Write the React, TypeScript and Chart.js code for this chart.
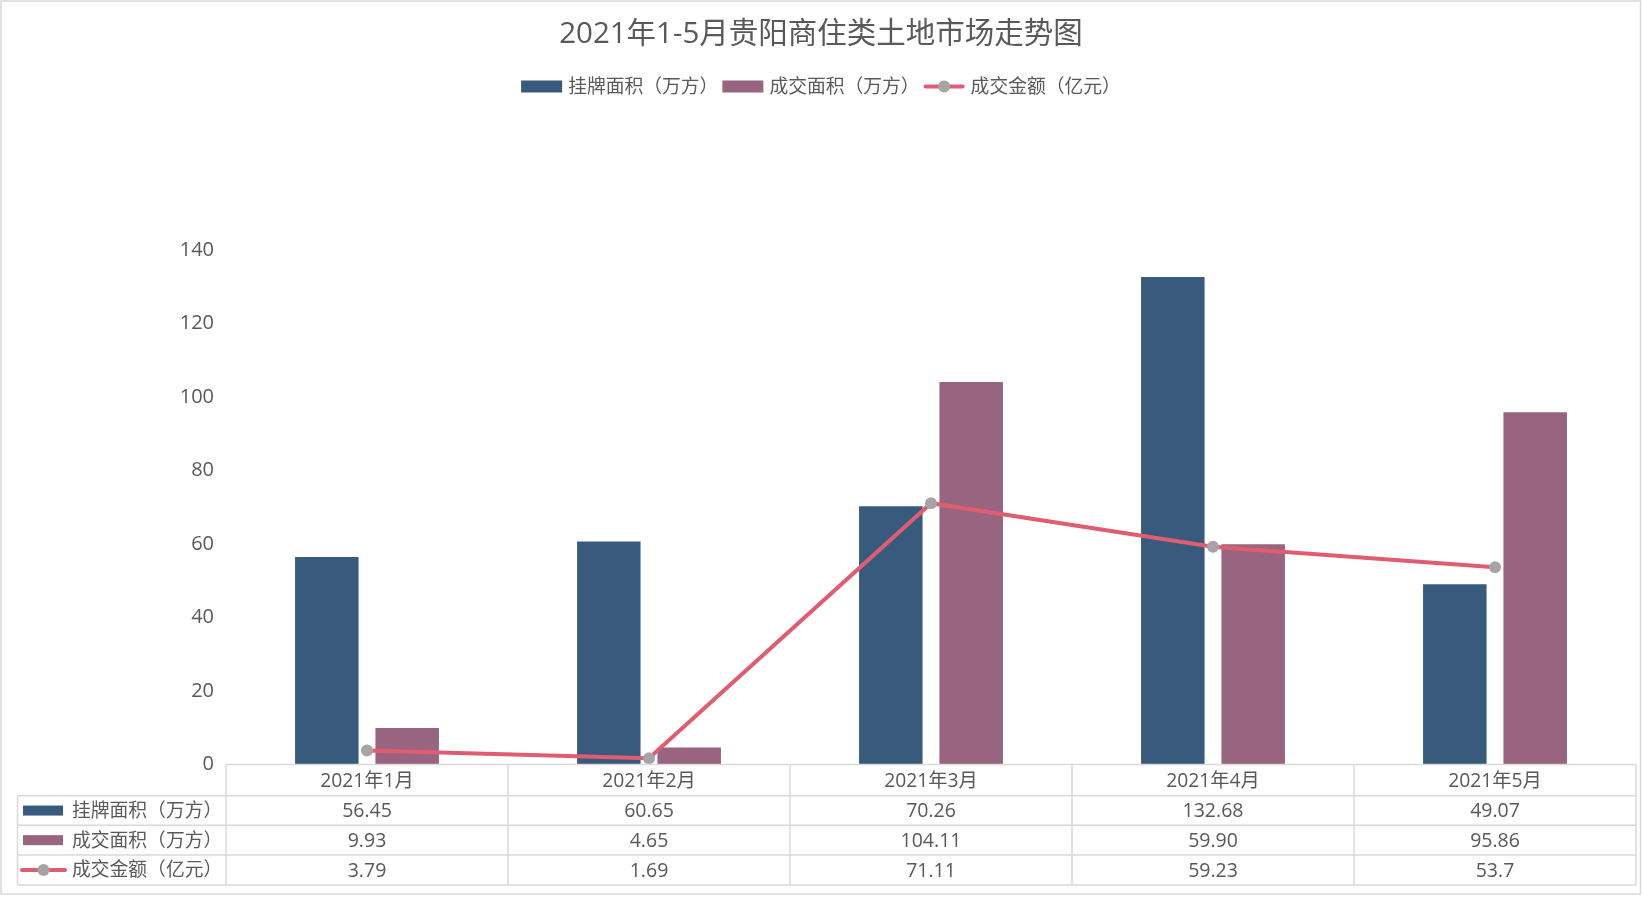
import React, { useEffect, useRef } from "react";
import { Chart, registerables } from "chart.js";

Chart.register(...registerables);

const title = "2021年1-5月贵阳商住类土地市场走势图";
const categories = ["2021年1月", "2021年2月", "2021年3月", "2021年4月", "2021年5月"];
const seriesNames = ["挂牌面积（万方）", "成交面积（万方）", "成交金额（亿元）"];
const listedArea = [56.45, 60.65, 70.26, 132.68, 49.07];
const dealArea = [9.93, 4.65, 104.11, 59.9, 95.86];
const dealAmount = [3.79, 1.69, 71.11, 59.23, 53.7];
const listedLabels = ["56.45", "60.65", "70.26", "132.68", "49.07"];
const dealAreaLabels = ["9.93", "4.65", "104.11", "59.90", "95.86"];
const dealAmountLabels = ["3.79", "1.69", "71.11", "59.23", "53.7"];
const yMin = 0;
const yMax = 140;
const yStep = 20;

const BLUE = "#375A7D";
const PINK = "#98647F";
const LINE = "#E05D71";
const DOT = "#A5A5A5";
const TEXT = "#595959";
const BORDER = "#D9D9D9";
const FONT = "'Open Sans', 'Noto Sans CJK SC', sans-serif";

const W = 1642;
const H = 909;

function drawIcon(ctx: CanvasRenderingContext2D, kind: number, x: number, y: number, w: number, h: number) {
  if (kind === 0 || kind === 1) {
    ctx.fillStyle = kind === 0 ? BLUE : PINK;
    ctx.fillRect(x, y - h / 2, w, h);
  } else {
    ctx.save();
    ctx.strokeStyle = LINE;
    ctx.lineWidth = 4;
    ctx.lineCap = "round";
    ctx.beginPath();
    ctx.moveTo(x + 2, y);
    ctx.lineTo(x + w - 2, y);
    ctx.stroke();
    ctx.fillStyle = DOT;
    ctx.beginPath();
    ctx.arc(x + w / 2, y, 6, 0, Math.PI * 2);
    ctx.fill();
    ctx.restore();
  }
}

const decorPlugin = {
  id: "decor",
  afterDraw(chart: any) {
    const ctx: CanvasRenderingContext2D = chart.ctx;
    const area = chart.chartArea;
    ctx.save();

    // outer border
    ctx.strokeStyle = BORDER;
    ctx.lineWidth = 1.5;
    ctx.strokeRect(1, 1, W - 2.5, 893);

    // title
    ctx.fillStyle = TEXT;
    ctx.font = `29.5px ${FONT}`;
    ctx.textAlign = "center";
    ctx.textBaseline = "middle";
    ctx.fillText(title, W / 2, 35);

    // legend
    ctx.font = `18.8px ${FONT}`;
    const boxW = 41;
    const gapIcon = 6;
    const gapItem = 4;
    const widths = seriesNames.map((s) => ctx.measureText(s).width);
    const total = widths.reduce((a, b) => a + b, 0) + 3 * (boxW + gapIcon) + 2 * gapItem;
    let lx = W / 2 - total / 2;
    const ly = 86.5;
    ctx.textAlign = "left";
    seriesNames.forEach((s, i) => {
      drawIcon(ctx, i, lx, ly, boxW, 12);
      ctx.fillStyle = TEXT;
      ctx.fillText(s, lx + boxW + gapIcon, ly + 1);
      lx += boxW + gapIcon + widths[i] + gapItem;
    });

    // data table
    const xs = chart.scales.x;
    const left = area.left;
    const right = area.right;
    const colW = (right - left) / categories.length;
    const rows = [area.bottom, 795.8, 825.3, 855, 885];
    const legendLeft = 17.5;
    ctx.strokeStyle = BORDER;
    ctx.lineWidth = 1.5;
    ctx.beginPath();
    ctx.moveTo(left, rows[0]);
    ctx.lineTo(right, rows[0]);
    for (let r = 1; r < rows.length; r++) {
      ctx.moveTo(legendLeft, rows[r]);
      ctx.lineTo(right, rows[r]);
    }
    for (let c = 0; c <= categories.length; c++) {
      const x = left + c * colW;
      ctx.moveTo(x, rows[0]);
      ctx.lineTo(x, rows[rows.length - 1]);
    }
    ctx.moveTo(legendLeft, rows[1]);
    ctx.lineTo(legendLeft, rows[rows.length - 1]);
    ctx.stroke();

    ctx.fillStyle = TEXT;
    ctx.textAlign = "center";
    ctx.font = `19.3px ${FONT}`;
    categories.forEach((c, i) => {
      const cx = xs.getPixelForValue(i);
      ctx.fillText(c, cx, (rows[0] + rows[1]) / 2 + 1);
    });
    const rowLabels = [listedLabels, dealAreaLabels, dealAmountLabels];
    rowLabels.forEach((labels, r) => {
      const cy = (rows[r + 1] + rows[r + 2]) / 2 + 1;
      ctx.font = `19.5px ${FONT}`;
      labels.forEach((t, i) => {
        const cx = xs.getPixelForValue(i);
        ctx.fillStyle = TEXT;
        ctx.textAlign = "center";
        ctx.fillText(t, cx, cy);
      });
      drawIcon(ctx, r, r === 2 ? 20 : 23, cy - 1, r === 2 ? 47 : 40, 10);
      ctx.fillStyle = TEXT;
      ctx.textAlign = "left";
      ctx.font = `18.8px ${FONT}`;
      ctx.fillText(seriesNames[r], 72, cy);
    });

    ctx.restore();
  },
};

export default function App() {
  const ref = useRef<HTMLCanvasElement | null>(null);

  useEffect(() => {
    if (!ref.current) return;
    const chart = new Chart(ref.current, {
      type: "bar",
      data: {
        labels: categories,
        datasets: [
          {
            type: "bar",
            label: seriesNames[0],
            data: listedArea,
            backgroundColor: BLUE,
            categoryPercentage: 0.57,
            barPercentage: 0.79,
            order: 1,
          },
          {
            type: "bar",
            label: seriesNames[1],
            data: dealArea,
            backgroundColor: PINK,
            categoryPercentage: 0.57,
            barPercentage: 0.79,
            order: 1,
          },
          {
            type: "line",
            label: seriesNames[2],
            data: dealAmount,
            borderColor: LINE,
            borderWidth: 4,
            pointRadius: 6,
            pointBackgroundColor: DOT,
            pointBorderWidth: 0,
            tension: 0,
            order: 0,
          } as any,
        ],
      },
      options: {
        responsive: false,
        animation: false,
        devicePixelRatio: 1,
        layout: { padding: { left: 0, right: 5, top: 250, bottom: 144.5 } },
        plugins: {
          legend: { display: false },
          title: { display: false },
          tooltip: { enabled: false },
        },
        scales: {
          x: { display: false, offset: true, grid: { display: false } },
          y: {
            min: yMin,
            max: yMax,
            ticks: {
              stepSize: yStep,
              padding: 12,
              color: TEXT,
              font: { family: FONT, size: 20 },
            },
            grid: { display: false, drawTicks: false },
            border: { display: false },
            afterFit: (scale: any) => {
              scale.width = 226;
            },
          },
        },
      },
      plugins: [decorPlugin],
    });
    return () => chart.destroy();
  }, []);

  return (
    <div style={{ position: "fixed", left: 0, top: 0, width: W, height: H, background: "#fff" }}>
      <canvas ref={ref} width={W} height={H} style={{ display: "block", width: W, height: H }} />
    </div>
  );
}
